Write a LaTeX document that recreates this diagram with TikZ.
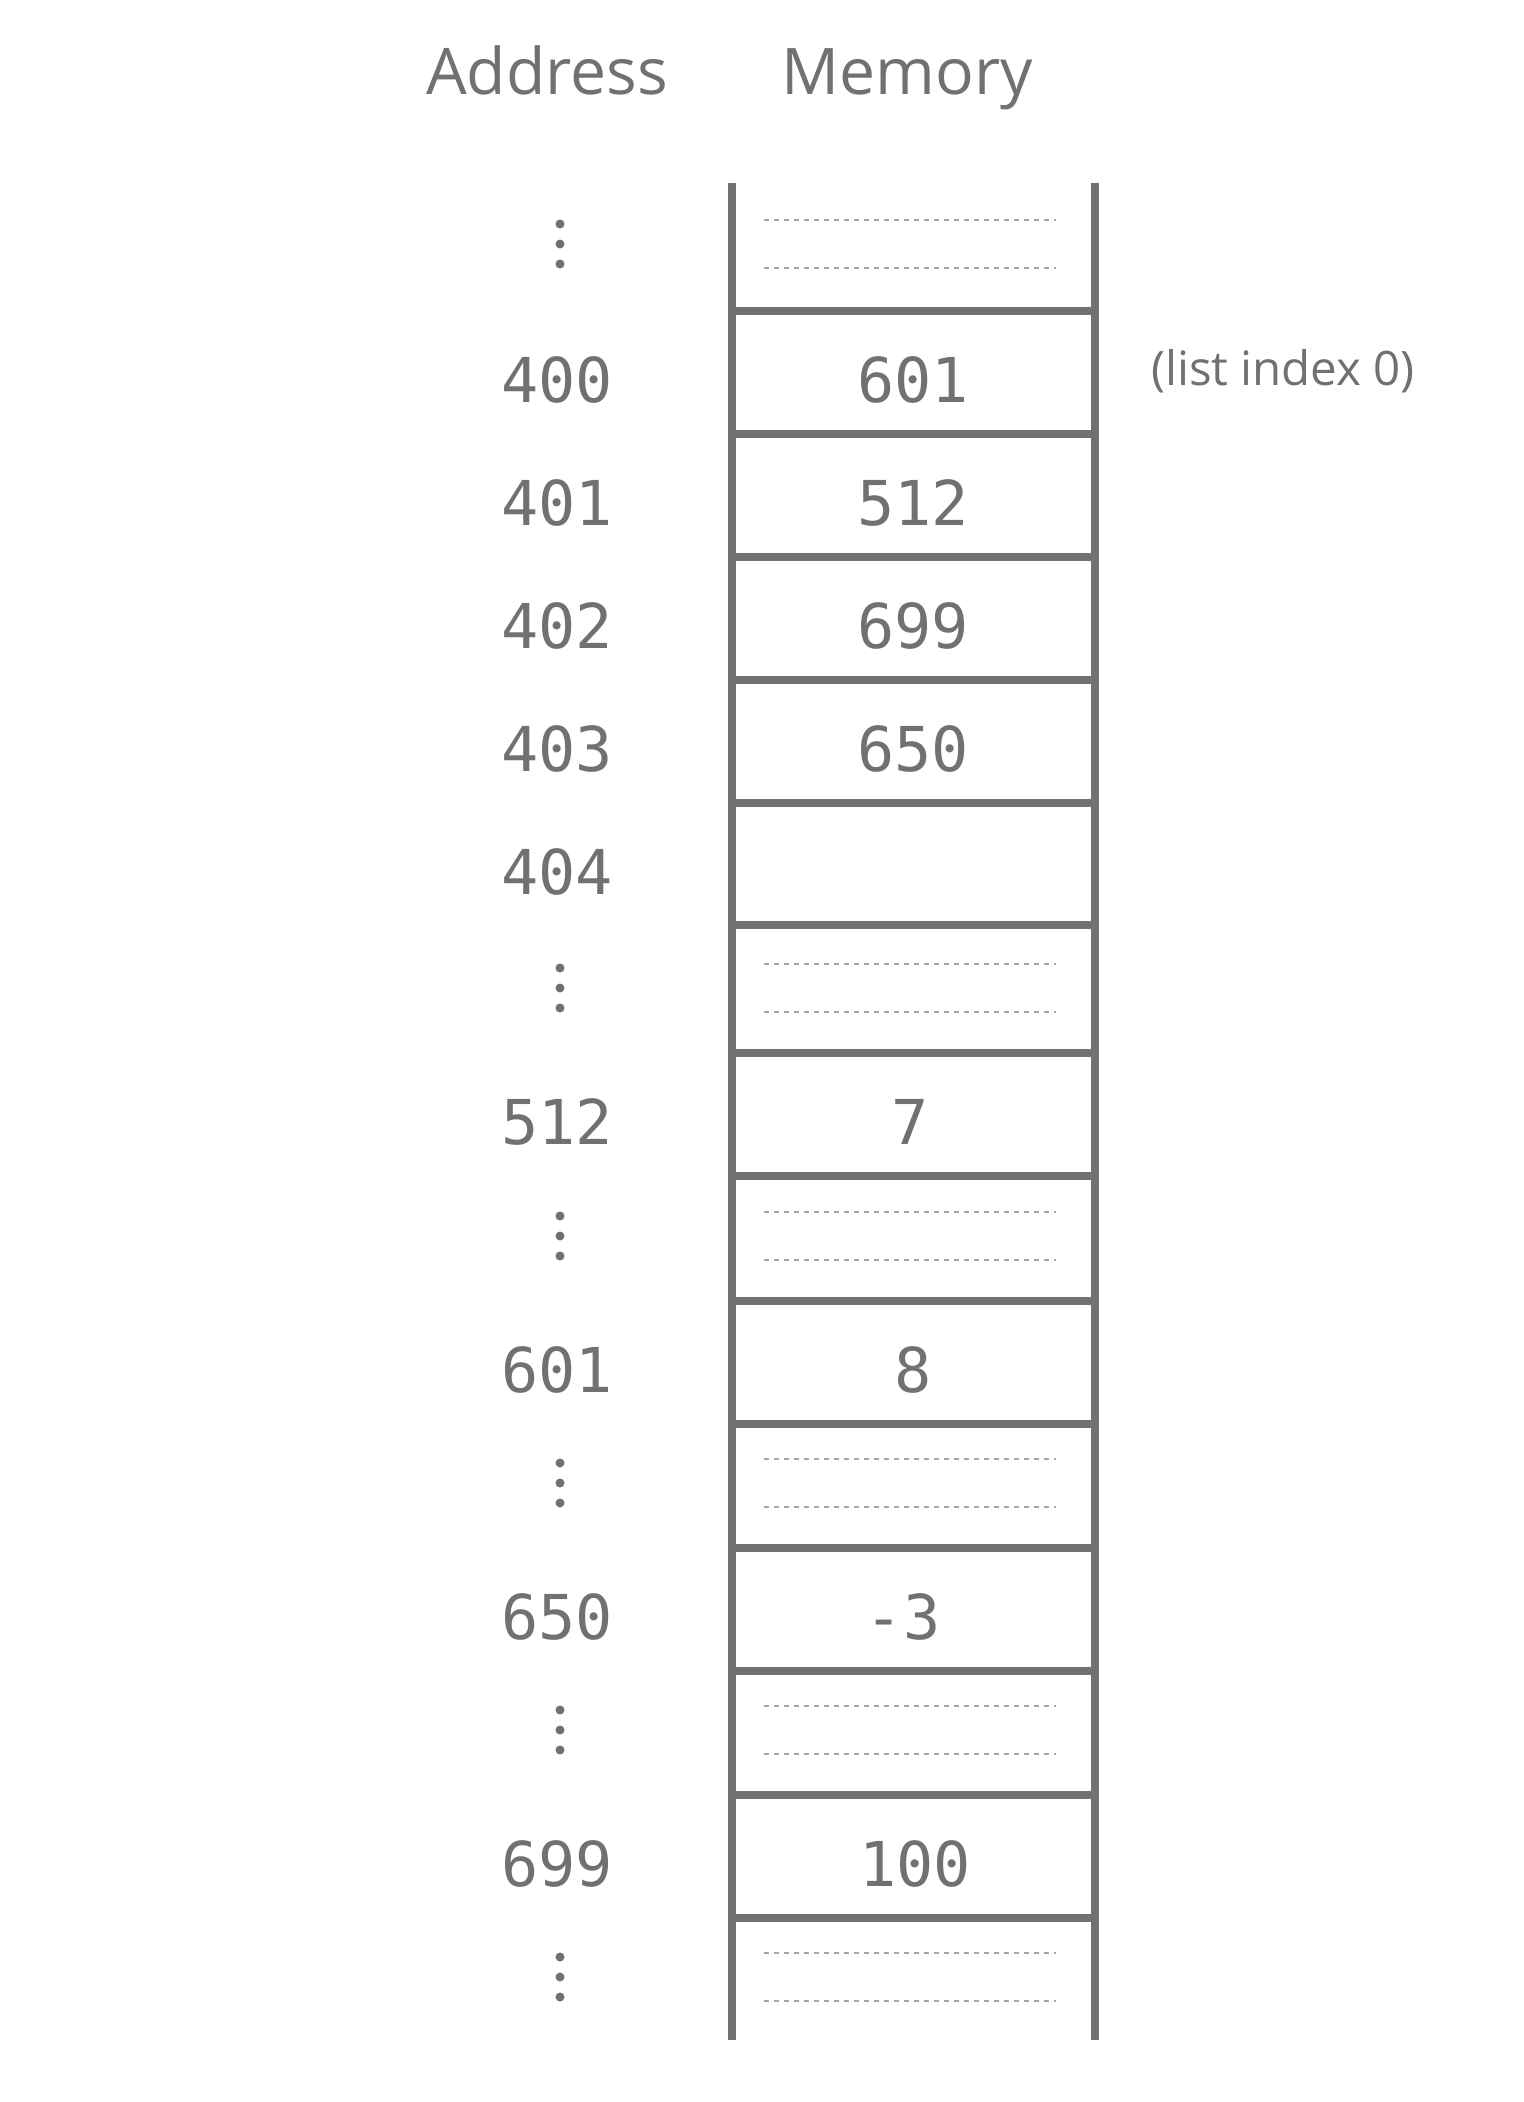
\documentclass[tikz,border=0pt]{standalone}
\usepackage{fontspec}
\setmainfont{Open Sans}
\newfontfamily\numFont[RawFeature=+zero]{DejaVu Sans Mono}
\definecolor{memGray}{HTML}{717171}
\definecolor{dashGray}{HTML}{A6A6A6}
\tikzset{
  heading/.style={anchor=base, font=\fontsize{18.3}{22}\selectfont},
  addr/.style={anchor=base, font=\fontsize{17.6}{20}\numFont},
  wall/.style={line width=0.8mm}
}
\newcommand{\gapRow}[1]{%
  \draw[dashGray, line width=0.2mm, dash pattern=on 0.5mm off 0.5mm] (764,{#1-24}) -- (1056,{#1-24}) (764,{#1+24}) -- (1056,{#1+24});
  \fill (560,{#1-20}) circle[radius=0.45mm] (560,#1) circle[radius=0.45mm] (560,{#1+20}) circle[radius=0.45mm];
}

\begin{document}
\begin{tikzpicture}[x=0.1mm, y=-0.1mm, memGray]
        \useasboundingbox (0,0) rectangle (1524,2102);
        \node[heading] (hAddr) at (547,94) {Address};
        \node[heading] (hMem) at (907,94) {Memory};
        \node[anchor=base, font=\fontsize{13.5}{16}\selectfont] (note) at (1283,385) {(list index 0)};

        % memory column
        \draw[wall] (732,183) -- (732,2040) (1095,183) -- (1095,2040);
        \foreach \y in {311,434,557,680,803,925,1053,1176,1301,1424,1548,1671,1795,1918}
            \draw[wall] (732,\y) -- (1095,\y);

        \foreach \y/\adr/\val/\vx in {402/400/601/913, 525/401/512/913, 648/402/699/913, 771/403/650/913, 894/404/{}/913, 1144/512/7/910, 1392/601/8/913, 1639/650/-3/903, 1886/699/100/915} {
            \node[addr] (a\adr) at (557,\y) {\adr};
            \node[addr] (v\adr) at (\vx,\y) {\val};
        }

        \foreach \c in {244,988,1236,1483,1730,1977} {\gapRow{\c}}
    \end{tikzpicture}
\end{document}
